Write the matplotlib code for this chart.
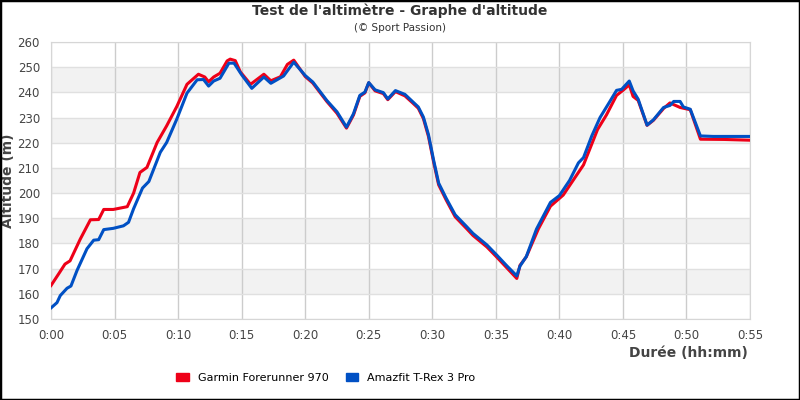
import matplotlib
matplotlib.use("Agg")
import matplotlib.pyplot as plt
from matplotlib.patches import Rectangle, Patch

# temps en minutes / altitude en m
garmin_t = [0, 0.6, 1.1, 1.5, 2.3, 3.1, 3.75, 4.15, 4.9, 6.0, 6.5, 7.0, 7.55, 8.35, 9.1, 9.9,
            10.7, 11.6, 12.1, 12.4, 12.8, 13.3, 13.86, 14.1, 14.5, 14.9, 15.7, 16.75, 17.3,
            18.05, 18.6, 19.1, 20.0, 20.6, 21.7, 22.5, 23.25, 23.8, 24.3, 24.7, 25.0, 25.5,
            26.15, 26.5, 27.1, 27.85, 28.5, 28.9, 29.3, 29.7, 30.1, 30.5, 31.1, 31.8, 32.7,
            33.2, 34.3, 35.07, 35.85, 36.65, 36.9, 37.4, 38.35, 39.3, 40.3, 41.9, 43.0, 43.7,
            44.5, 45.0, 45.5, 45.8, 46.2, 46.9, 47.4, 48.2, 48.7, 49.5, 50.3, 51.1, 53.0, 55.0]
garmin_alt = [163.3, 167.9, 171.8, 173.1, 181.7, 189.4, 189.5, 193.5, 193.5, 194.6, 200, 208.2,
              210.2, 220.1, 226.7, 234.4, 243.2, 247.2, 246.1, 244.2, 246.1, 247.6, 252.5,
              253.2, 252.6, 248.1, 243.2, 247.2, 244.6, 246.2, 251.1, 252.8, 246.3, 243.7,
              236.4, 231.7, 225.8, 231.0, 238.4, 239.8, 243.8, 240.6, 239.5, 237.1, 240.3,
              238.6, 235.6, 233.7, 229.6, 222.5, 212.5, 203.3, 197.2, 190.6, 185.9, 183.2,
              178.6, 174.6, 170.4, 166.1, 171.3, 174.7, 185.8, 194.8, 199.2, 211.2, 225.2,
              231.0, 238.8, 240.8, 243.0, 238.4, 236.8, 226.9, 228.9, 233.6, 235.8, 234.0,
              233.1, 221.4, 221.3, 221.0]

amazfit_t = [0, 0.47, 0.73, 1.26, 1.57, 2.05, 2.83, 3.36, 3.75, 4.15, 4.9, 5.7, 6.1, 6.5, 7.2,
             7.7, 8.6, 9.1, 9.9, 10.7, 11.5, 12.0, 12.4, 12.8, 13.3, 14.0, 14.4, 14.6, 15.0,
             15.8, 16.75, 17.3, 18.3, 19.1, 20.0, 20.6, 21.7, 22.5, 23.25, 23.8, 24.3, 24.7,
             25.0, 25.5, 26.15, 26.5, 27.1, 27.85, 28.5, 28.9, 29.3, 29.7, 30.1, 30.5, 31.1,
             31.8, 32.7, 33.2, 34.3, 35.07, 35.85, 36.65, 36.9, 37.4, 38.2, 39.3, 40.0, 40.8,
             41.5, 41.9, 42.55, 43.2, 44.0, 44.5, 44.9, 45.5, 45.8, 46.2, 46.9, 47.4, 48.2,
             48.7, 49.0, 49.5, 49.76, 50.3, 51.1, 52.1, 55.0]
amazfit_alt = [154.4, 156.5, 159.3, 162.2, 163.1, 169.3, 177.9, 181.3, 181.5, 185.5, 186.0,
               187.0, 188.4, 193.8, 202.0, 204.6, 216.2, 220.1, 229.4, 239.7, 245.0, 245.1,
               242.5, 244.5, 245.6, 251.6, 251.6, 250.1, 247.0, 241.6, 246.1, 243.6, 246.5,
               252.0, 246.7, 244.1, 236.8, 232.3, 226.2, 231.5, 238.8, 240.1, 243.9, 241.0,
               239.9, 237.4, 240.7, 239.2, 236.1, 234.2, 230.2, 223.2, 213.2, 204.0, 197.9,
               191.4, 186.7, 184.0, 179.4, 175.4, 171.2, 167.1, 171.0, 174.8, 185.7, 196.3,
               199.0, 205.0, 212.0, 214.1, 222.7, 230.0, 236.6, 240.8, 241.2, 244.5, 240.6,
               237.3, 227.0, 229.1, 234.0, 234.8, 236.4, 236.4, 234.2, 233.3, 222.7, 222.5,
               222.5]

series = ["Garmin Forerunner 970", "Amazfit T-Rex 3 Pro"]
colors = ["#ee0018", "#0050c4"]

x_ticks = list(range(0, 56, 5))
x_labels = [f"0:{m:02d}" for m in x_ticks]
y_ticks = list(range(150, 261, 10))

fig = plt.figure(figsize=(8, 4), dpi=100)
ax = fig.add_axes([0.06375, 0.2025, 0.87375, 0.6925])

# bandes grises alternées
for lo in range(160, 260, 20):
    ax.axhspan(lo, lo + 10, color="#f2f2f2", zorder=0, lw=0)

ax.plot(garmin_t, garmin_alt, color=colors[0], lw=2.2, zorder=3, solid_joinstyle="round")
ax.plot(amazfit_t, amazfit_alt, color=colors[1], lw=2.2, zorder=4, solid_joinstyle="round")

ax.set_xlim(0, 55)
ax.set_ylim(150, 260)
ax.set_xticks(x_ticks)
ax.set_xticklabels(x_labels)
ax.set_yticks(y_ticks)
ax.grid(axis="x", color="#cccccc", lw=1, zorder=1)
ax.grid(axis="y", color="#e0e0e0", lw=1, zorder=1)
ax.tick_params(axis="y", length=0, labelsize=8.5, colors="#444444", pad=8)
ax.tick_params(axis="x", length=0, labelsize=8.5, colors="#444444", pad=7)
for s in ax.spines.values():
    s.set_color("#d6d6d6")

ax.set_ylabel("Altitude (m)", fontsize=10, fontweight="bold", color="#444444")
ax.yaxis.set_label_coords(-0.052, 0.5)
fig.text(0.935, 0.118, "Durée (hh:mm)", ha="right", va="center", fontsize=10,
         fontweight="bold", color="#444444")

fig.text(0.5, 0.972, "Test de l'altimètre - Graphe d'altitude", ha="center", va="center",
         fontsize=10, fontweight="bold", color="#333333")
fig.text(0.5, 0.93, "(© Sport Passion)", ha="center", va="center", fontsize=7.5,
         color="#333333")

handles = [Patch(facecolor=c, edgecolor=c) for c in colors]
fig.legend(handles, series, loc="center left", bbox_to_anchor=(0.208, 0.055), ncol=2,
           frameon=False, fontsize=8, handlelength=1.1, handleheight=0.7,
           handletextpad=0.8, columnspacing=1.6)

fig.patches.append(Rectangle((0, 0), 1, 1, transform=fig.transFigure, fill=False,
                             edgecolor="black", lw=2.5))

fig.savefig("out.png", dpi=100)
